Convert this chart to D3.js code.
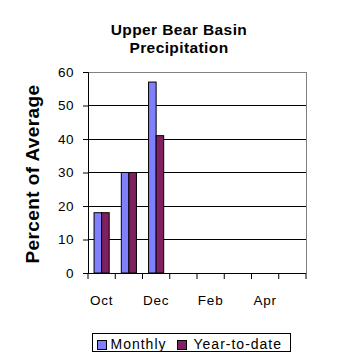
<!DOCTYPE html>
<html><head><meta charset="utf-8">
<script src="https://cdn.jsdelivr.net/npm/d3@7"></script>
<style>body{margin:0;background:#fff}svg{display:block;font-family:Arial,"Liberation Sans",sans-serif}</style>
</head><body><svg id="c" width="358" height="358"></svg>
<script>
const categories = ["Oct","Nov","Dec","Jan","Feb","Mar","Apr","May"];
const monthly = [18, 30, 57, null, null, null, null, null];
const yearToDate = [18, 30, 41, null, null, null, null, null];
const yTicks = [0,10,20,30,40,50,60];
const seriesNames = ["Monthly","Year-to-date"];
const colors = ["#8080FF","#802060"];

const svg = d3.select("#c");
const m = {l:88, r:306, t:72, b:273};
const x = d3.scaleBand().domain(categories).range([m.l, m.r]);
const xi = d3.scaleBand().domain(seriesNames).range([0, x.bandwidth()]).paddingOuter(0.8).paddingInner(0);
const y = d3.scaleLinear().domain([0,60]).range([m.b, m.t]);

// gridlines
svg.append("g").selectAll("line").data(yTicks.filter(d=>d>0 && d<60)).join("line")
  .attr("x1", m.l).attr("x2", m.r).attr("y1", d=>y(d)).attr("y2", d=>y(d))
  .attr("stroke","#000").attr("stroke-width",1).attr("shape-rendering","crispEdges");
// plot border top/right gray
svg.append("path").attr("d", `M${m.l},${m.t}H${m.r}V${m.b}`).attr("fill","none")
  .attr("stroke","#808080").attr("shape-rendering","crispEdges");

// bars
const series = [monthly, yearToDate];
series.forEach((vals, si) => {
  svg.append("g").selectAll("rect").data(categories.map((c,i)=>({c, v: vals[i]})).filter(d=>d.v!=null)).join("rect")
    .attr("x", d => x(d.c) + xi(seriesNames[si]))
    .attr("width", xi.bandwidth())
    .attr("y", d => y(d.v))
    .attr("height", d => y(0) - y(d.v))
    .attr("fill", colors[si]).attr("stroke","#000").attr("stroke-width",1);
});

// y axis
const ya = svg.append("g").attr("transform",`translate(${m.l},0)`)
  .call(d3.axisLeft(y).tickValues(yTicks).tickSize(5).tickPadding(9));
ya.select(".domain").attr("stroke","#000");
ya.selectAll("line").attr("stroke","#000");
ya.selectAll("text").attr("font-size","13.5px").attr("fill","#000")
  .attr("letter-spacing","0.5px").attr("font-family","Arial,'Liberation Sans',sans-serif");

// x axis
const xb = svg.append("g").attr("transform",`translate(0,${m.b})`);
xb.append("line").attr("x1",m.l).attr("x2",m.r).attr("stroke","#000").attr("shape-rendering","crispEdges");
const bounds = categories.map(c=>x(c)).concat([m.r]);
xb.selectAll(".tk").data(bounds).join("line").attr("class","tk")
  .attr("x1",d=>d).attr("x2",d=>d).attr("y1",0).attr("y2",6).attr("stroke","#000");
xb.selectAll("text").data(categories.filter((c,i)=>i%2===0)).join("text")
  .attr("x", d=>x(d)+x.bandwidth()/2).attr("y", 31.5).attr("text-anchor","middle")
  .attr("font-size","13.5px").attr("letter-spacing","0.8px").text(d=>d);

// title
svg.append("text").attr("x",179).attr("y",34.5).attr("text-anchor","middle")
  .attr("font-weight","bold").attr("font-size","15.5px").attr("letter-spacing","0.4px").text("Upper Bear Basin");
svg.append("text").attr("x",179).attr("y",52.5).attr("text-anchor","middle")
  .attr("font-weight","bold").attr("font-size","15.5px").attr("letter-spacing","0.4px").text("Precipitation");

// y label
svg.append("text").attr("transform",`translate(39,174) rotate(-90)`).attr("text-anchor","middle")
  .attr("font-weight","bold").attr("font-size","19px").attr("letter-spacing","0.4px").text("Percent of Average");

// legend
const lg = svg.append("g");
lg.append("rect").attr("x",92.5).attr("y",333.5).attr("width",198).attr("height",18)
  .attr("fill","#fff").attr("stroke","#000");
const lx = [97.5, 177.5], tx = [110.5, 193.5];
seriesNames.forEach((n,i)=>{
  lg.append("rect").attr("x",lx[i]).attr("y",340.5).attr("width",9).attr("height",9)
    .attr("fill",colors[i]).attr("stroke","#000");
  lg.append("text").attr("x",tx[i]).attr("y",348.5).attr("font-size","14px")
    .attr("letter-spacing","1px").text(n);
});
</script></body></html>
